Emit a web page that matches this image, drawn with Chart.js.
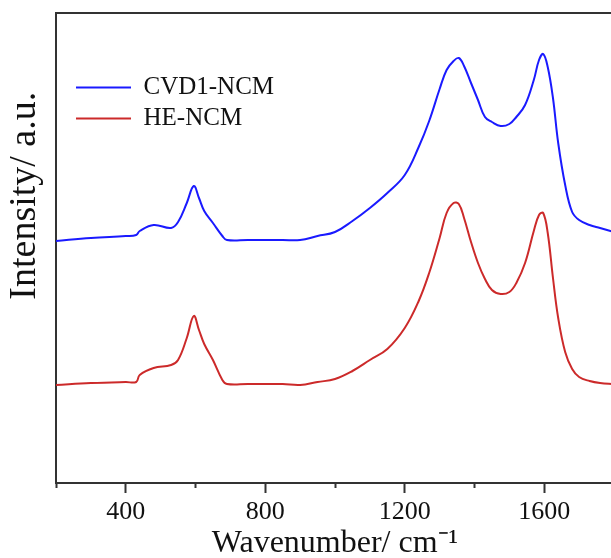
<!DOCTYPE html>
<html>
<head>
<meta charset="utf-8">
<script src="https://cdn.jsdelivr.net/npm/chart.js@4.4.1/dist/chart.umd.min.js"></script>
<style>
  html, body { margin: 0; padding: 0; background: #fff; overflow: hidden; }
  #wrap { width: 616px; height: 558px; }
</style>
</head>
<body>
<div id="wrap"><canvas id="c" width="616" height="558"></canvas></div>
<script>
// Wavenumber (cm^-1) sample positions
const wavenumbers = [200, 300, 400, 430, 440, 480, 530, 550, 575, 595, 610, 625, 650, 677, 690, 750, 800, 850, 900, 950, 1000, 1050, 1100, 1150, 1200, 1240, 1270, 1300, 1320, 1340, 1355, 1370, 1390, 1410, 1430, 1450, 1475, 1500, 1520, 1545, 1570, 1585, 1597, 1610, 1625, 1640, 1660, 1680, 1700, 1730, 1760, 1800];
// Intensity (a.u., offset for display)
const cvd1NCM = [242, 245, 247, 248, 252, 258, 255, 261, 280, 297, 285, 272, 260, 247, 243, 243, 243, 243, 243, 247, 251, 262, 275, 290, 308, 336, 362, 394, 413, 422, 425, 417, 400, 383, 366, 361, 357, 359, 366, 378, 403, 423, 429, 416, 385, 340, 298, 271, 263, 258, 255, 251];
const heNCM   = [98, 100, 101, 101, 108, 115, 118, 123, 145, 167, 153, 139, 123, 103, 99, 99, 99, 99, 98, 101, 104, 112, 123, 134, 155, 182, 210, 245, 270, 280, 279, 265, 241, 220, 204, 193, 189, 191, 200, 220, 252, 268, 270, 250, 205, 165, 131, 114, 106, 102, 100, 99];
const seriesNames = ['CVD1-NCM', 'HE-NCM'];
const majorTicks = [400, 800, 1200, 1600];
const minorTicks = [200, 600, 1000, 1400, 1800];

const toPts = (ys) => wavenumbers.map((x, i) => ({ x: x, y: ys[i] }));
const serif = '"Liberation Serif", "Times New Roman", serif';
const axisColor = '#333333';

// Moves the legend block inside the plot area (offset from the plot's top-left corner)
const legendShift = {
  id: 'legendShift',
  afterLayout(chart, args, opts) {
    if (chart.legend) {
      chart.legend.left += opts.dx;
      chart.legend.top += opts.dy;
    }
  }
};

new Chart(document.getElementById('c'), {
  type: 'line',
  data: {
    datasets: [
      { label: seriesNames[0], data: toPts(cvd1NCM), borderColor: '#1a1aff', backgroundColor: '#1a1aff', borderWidth: 2, pointRadius: 0, tension: 0.4 },
      { label: seriesNames[1], data: toPts(heNCM), borderColor: '#cc2a2a', backgroundColor: '#cc2a2a', borderWidth: 2, pointRadius: 0, tension: 0.4 }
    ]
  },
  plugins: [legendShift],
  options: {
    responsive: false,
    animation: false,
    events: [],
    layout: { padding: { top: 13, right: 2, left: 0, bottom: 0 } },
    plugins: {
      tooltip: { enabled: false },
      legendShift: { dx: 14, dy: 69 },
      legend: {
        position: 'chartArea',
        align: 'start',
        labels: {
          usePointStyle: true,
          pointStyle: 'line',
          pointStyleWidth: 55,
          boxHeight: 2,
          padding: 6,
          color: '#111',
          font: { family: serif, size: 25 }
        }
      }
    },
    scales: {
      xm: {
        type: 'linear', position: 'bottom', weight: -1,
        min: 200, max: 1800,
        afterBuildTicks: (s) => { s.ticks = minorTicks.map(v => ({ value: v })); },
        afterFit: (s) => { s.height = 0; },
        ticks: { display: false },
        grid: { drawOnChartArea: false, drawTicks: true, tickLength: 5, tickWidth: 2, tickColor: axisColor },
        border: { display: false }
      },
      x: {
        type: 'linear', position: 'bottom', weight: 0,
        min: 200, max: 1800,
        afterBuildTicks: (s) => { s.ticks = majorTicks.map(v => ({ value: v })); },
        afterFit: (s) => { s.height = 75; },
        ticks: { color: '#111', font: { family: serif, size: 26 }, padding: 4, maxRotation: 0, callback: (v) => String(v) },
        grid: { drawOnChartArea: false, drawTicks: true, tickLength: 10, tickWidth: 2, tickColor: axisColor },
        border: { display: true, color: axisColor, width: 2 },
        title: { display: true, text: 'Wavenumber/ cm\u207B\u00B9', color: '#111', font: { family: serif, size: 32 }, padding: { top: 0, bottom: -5 } }
      },
      xt: {
        type: 'linear', position: 'top',
        min: 200, max: 1800,
        afterFit: (s) => { s.height = 0; },
        ticks: { display: false },
        grid: { display: true, drawOnChartArea: false, drawTicks: false },
        border: { display: true, color: axisColor, width: 2 }
      },
      y: {
        type: 'linear', position: 'left',
        min: 0, max: 470,
        afterFit: (s) => { s.width = 56; },
        ticks: { display: false },
        grid: { display: true, drawOnChartArea: false, drawTicks: false },
        border: { display: true, color: axisColor, width: 2 },
        title: { display: true, text: '           Intensity/ a.u.', color: '#111', font: { family: serif, size: 38 }, padding: { top: 2, bottom: 4 } }
      }
    }
  }
});
</script>
</body>
</html>
